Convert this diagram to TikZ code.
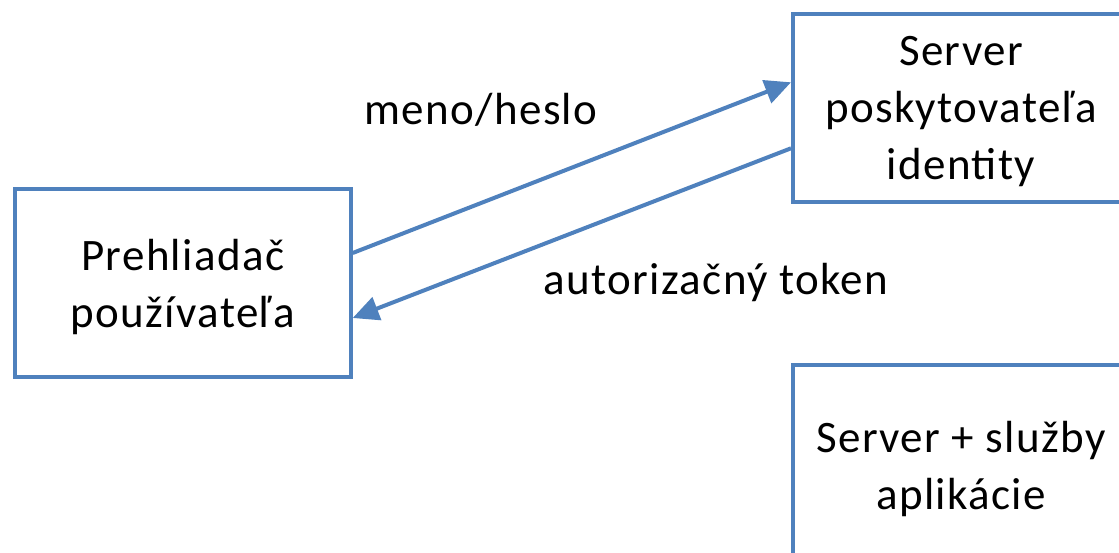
\documentclass[tikz,border=0pt]{standalone}
\usepackage{fontspec}
\setmainfont{Carlito}[LetterSpace=3]
\usetikzlibrary{arrows.meta}
\definecolor{boxblue}{RGB}{79,129,189}
\tikzset{
  box/.style={draw=boxblue, line width=4pt, rectangle, minimum width=336pt,
    minimum height=188pt, inner sep=0pt, align=center, text depth=0pt,
    font=\fontsize{45pt}{57pt}\selectfont},
  flow/.style={draw=boxblue, line width=4pt,
    -{Triangle[length=26pt,width=24pt]}},
  lbl/.style={font=\fontsize{45pt}{57pt}\selectfont, inner sep=0pt}
}
\begin{document}
\begin{tikzpicture}[x=1pt,y=-1pt]
  \useasboundingbox (0,0) rectangle (1119,553);
  \node[box] (browser) at (182.7,283) {Prehliadač\\používateľa};
  \node[box] (idp) at (961,108.3) {Server\\poskytovateľa\\identity};
  \node[box, minimum height=200pt] (app) at (961,465) {Server + služby\\aplikácie};
  \draw[flow] ([yshift=30pt]browser.east) -- ([yshift=26pt]idp.west);
  \draw[flow] ([yshift=-40pt]idp.west) -- ([yshift=-35pt]browser.east);
  \node[lbl, anchor=base] (cred) at (481,125) {meno/heslo};
  \node[lbl, anchor=base] (token) at (716,295) {autorizačný token};
\end{tikzpicture}
\end{document}
